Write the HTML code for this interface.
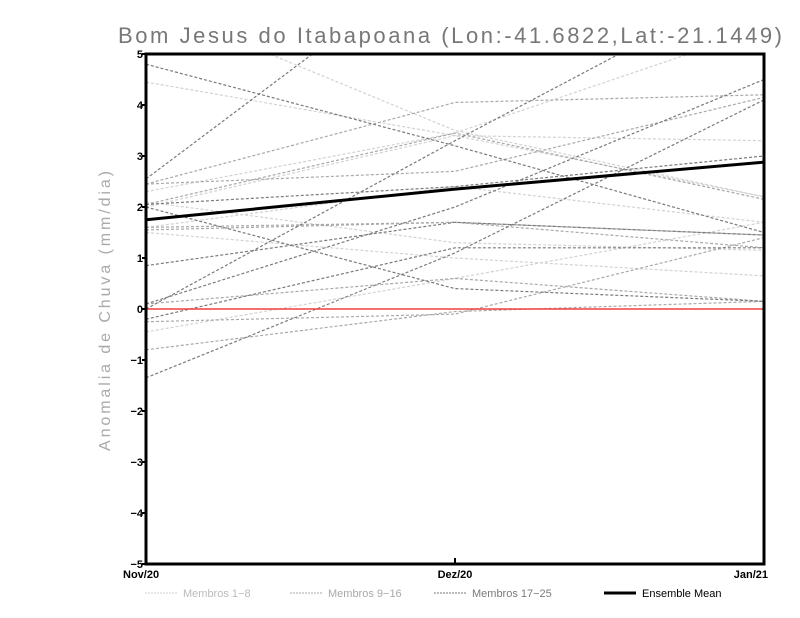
<!DOCTYPE html>
<html><head><meta charset="utf-8"><style>
body{margin:0;background:#fff;width:800px;height:618px;overflow:hidden}
svg{display:block}
</style></head><body>
<svg id="chart" width="800" height="618" font-family="Liberation Sans, sans-serif">
<text x="450" y="43" text-anchor="middle" font-size="22" fill="#777" textLength="664" lengthAdjust="spacing">Bom Jesus do Itabapoana (Lon:-41.6822,Lat:-21.1449)</text>
<text transform="translate(110,311) rotate(-90)" text-anchor="middle" font-size="16" fill="#aaa" textLength="280" lengthAdjust="spacing">Anomalia de Chuva (mm/dia)</text>
<defs><clipPath id="pc"><rect x="146" y="54" width="618" height="510"/></clipPath></defs>
<g id="series" clip-path="url(#pc)"></g>
<g id="axes"></g>
<g id="legend"></g>
</svg>
<script>
const categories = ["Nov/20","Dez/20","Jan/21"];
const yTicks = [-5,-4,-3,-2,-1,0,1,2,3,4,5];
const membros1to8 = [[6.0,3.5,2.2],[4.45,3.4,2.2],[2.3,3.45,5.5],[2.0,3.4,3.3],[1.6,2.4,1.7],[-0.45,0.6,1.7],[1.5,1.0,0.65],[2.1,1.3,1.15]];
const membros9to16 = [[2.45,4.05,4.2],[2.45,2.7,4.15],[2.05,3.45,2.15],[1.6,1.7,1.2],[1.55,1.7,1.45],[0.1,0.6,0.15],[-0.8,-0.05,0.15],[-0.25,-0.1,1.4]];
const membros17to25 = [[2.55,7.1,8.0],[4.8,3.2,1.5],[0.0,3.3,6.5],[0.1,2.0,4.5],[-1.35,1.1,4.1],[2.05,2.4,3.0],[0.85,1.7,1.45],[2.0,0.4,0.15],[-0.2,1.2,1.2]];
const ensembleMean = [1.75,2.35,2.88];

const NS="http://www.w3.org/2000/svg";
const L=146,R=764,T=54,B=564;
const xs=i=>L+(R-L)*i/(categories.length-1);
const ys=v=>T+(B-T)*(5-v)/10;
function mk(tag,attrs,parent){const e=document.createElementNS(NS,tag);for(const k in attrs)e.setAttribute(k,attrs[k]);parent.appendChild(e);return e;}
const sg=document.getElementById('series'),ag=document.getElementById('axes'),lg=document.getElementById('legend');
function line(vals,color,w,dash,name){
  const p=mk('polyline',{points:vals.map((v,i)=>xs(i)+','+ys(v)).join(' '),fill:'none',stroke:color,'stroke-width':w},sg);
  if(dash)p.setAttribute('stroke-dasharray',dash);
  
  
}
membros1to8.forEach((s,i)=>line(s,'#d2d2d2',1.2,'3,2','member-line-'+(i+1)));
membros9to16.forEach((s,i)=>line(s,'#a9a9a9',1.2,'3,2','member-line-'+(i+9)));
membros17to25.forEach((s,i)=>line(s,'#7a7a7a',1.2,'3,2','member-line-'+(i+17)));
const z=mk('line',{x1:L,x2:R,y1:ys(0),y2:ys(0),stroke:'#f04040','stroke-width':1.5},sg);


line(ensembleMean,'#000',3,null,'ensemble-mean-line');
const fr=mk('rect',{x:L,y:T,width:R-L,height:B-T,fill:'none',stroke:'#000','stroke-width':3},ag);


yTicks.forEach(v=>{
  mk('line',{x1:L-4,x2:L,y1:ys(v),y2:ys(v),stroke:'#000','stroke-width':2},ag);
  const t=mk('text',{x:L-3,y:ys(v)+4,'text-anchor':'end','font-size':11,'font-weight':'bold'},ag);
  t.textContent=v<0?'\u2212'+(-v):v;
  
  
});
categories.forEach((c,i)=>{
  mk('line',{x1:xs(i),x2:xs(i),y1:B,y2:B-6,stroke:'#000','stroke-width':2},ag);
  const anchor=i===0?'start':(i===categories.length-1?'end':'middle');
  const t=mk('text',{x:i===0?L-23:(i===categories.length-1?R+4:xs(i)),y:B+14,'text-anchor':anchor,'font-size':11,'font-weight':'bold'},ag);
  t.textContent=c;
  
  
});
const leg=[['Membros 1\u22128','#d2d2d2',145,1],['Membros 9\u221216','#a9a9a9',290,1],['Membros 17\u221225','#7a7a7a',434,1],['Ensemble Mean','#000',604,3]];
leg.forEach(([lab,col,x,w])=>{
  const l=mk('line',{x1:x,x2:x+32,y1:593,y2:593,stroke:col,'stroke-width':w},lg);
  if(w===1)l.setAttribute('stroke-dasharray','2,1');
  
  
  const t=mk('text',{x:x+38,y:597,'font-size':11,fill:w===3?'#000':col},lg);
  if(col==='#d2d2d2')t.setAttribute('fill','#bbb');
  t.textContent=lab;
  
  
});
</script>
</body></html>
